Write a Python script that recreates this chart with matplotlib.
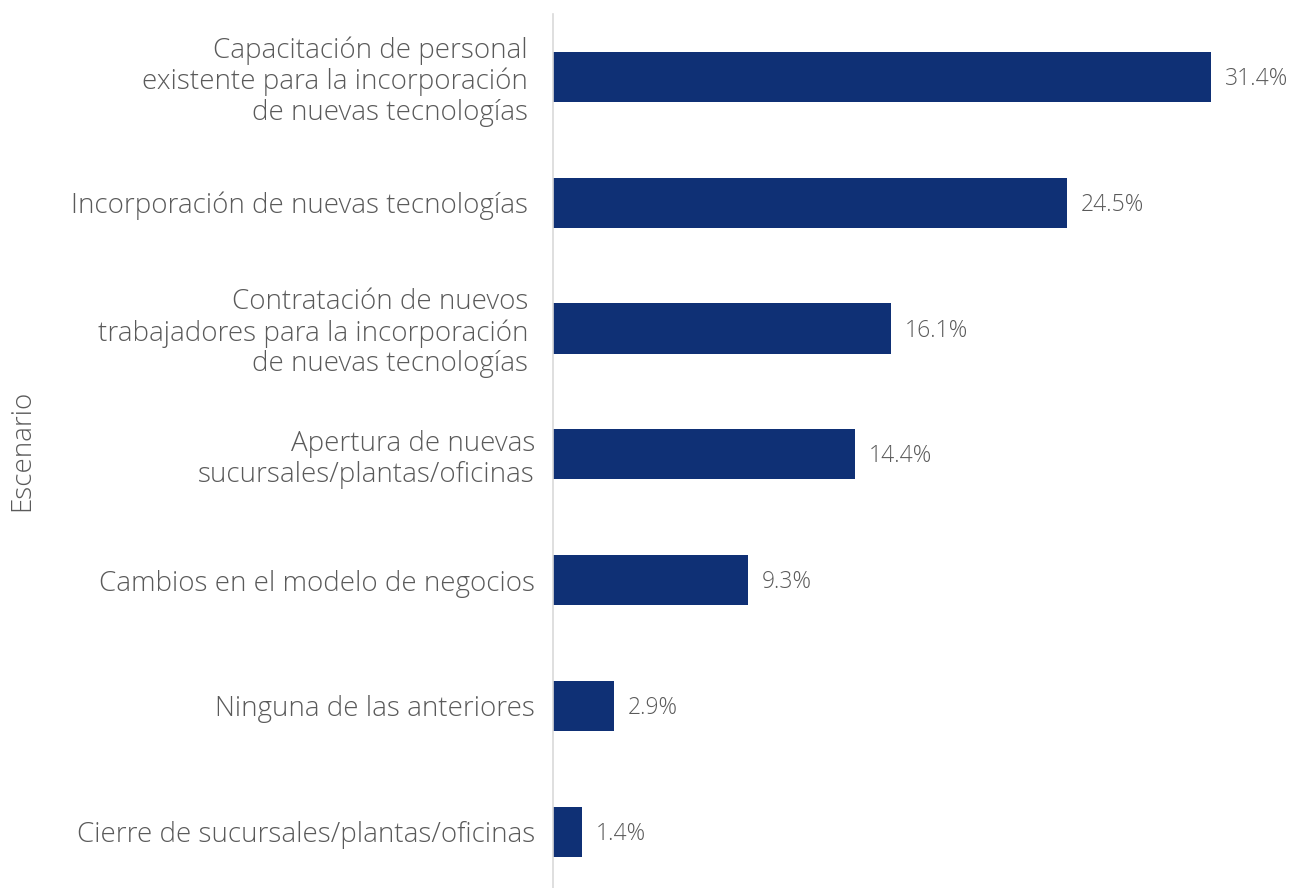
import matplotlib
matplotlib.use("Agg")
import matplotlib.pyplot as plt
import matplotlib.transforms as mtransforms

categories = [
    "Capacitación de personal\nexistente para la incorporación\nde nuevas tecnologías",
    "Incorporación de nuevas tecnologías",
    "Contratación de nuevos\ntrabajadores para la incorporación\nde nuevas tecnologías",
    "Apertura de nuevas\nsucursales/plantas/oficinas",
    "Cambios en el modelo de negocios",
    "Ninguna de las anteriores",
    "Cierre de sucursales/plantas/oficinas",
]
values = [31.4, 24.5, 16.1, 14.4, 9.3, 2.9, 1.4]
value_labels = ["31.4%", "24.5%", "16.1%", "14.4%", "9.3%", "2.9%", "1.4%"]
axis_title = "Escenario"

plt.rcParams['font.family'] = ['Open Sans', 'DejaVu Sans']
W, H = 1291, 888
fig = plt.figure(figsize=(W / 100, H / 100), dpi=100)
ax = fig.add_axes([553 / W, 0, 1 - 553 / W, 1 - 14 / H])

bar_color = "#0f3075"
text_color = "#5a5a5a"
pos = list(range(len(categories)))
ax.barh(pos, values, height=0.4, color=bar_color)
for p, v, lab in zip(pos, values, value_labels):
    ax.annotate(lab, (v, p), xytext=(10, -1.5), textcoords="offset points",
                va="center", ha="left", fontsize=16.5, color=text_color,
                fontweight="light")

ax.set_ylim(6.447, -0.5)
ax.set_xlim(0, 35.2)
ax.set_yticks(pos)
ax.set_yticklabels(categories, fontsize=20, color=text_color,
                   linespacing=1.13, fontweight="light")
ax.tick_params(axis="y", length=0, pad=13)
# first three labels sit slightly further left in the reference
for i, t in enumerate(ax.get_yticklabels()):
    if i < 3:
        t.set_transform(t.get_transform() +
                        mtransforms.ScaledTranslation(-7 / 100, 0, fig.dpi_scale_trans))
ax.set_xticks([])
for s in ["top", "right", "bottom"]:
    ax.spines[s].set_visible(False)
ax.spines["left"].set_color("#d9d9d9")
ax.spines["left"].set_linewidth(1.2)
fig.text(22 / W, 1 - 450 / H, axis_title, rotation=90, ha="center", va="center",
         fontsize=20, color=text_color, fontweight="light")

fig.savefig("out.png", dpi=100)
